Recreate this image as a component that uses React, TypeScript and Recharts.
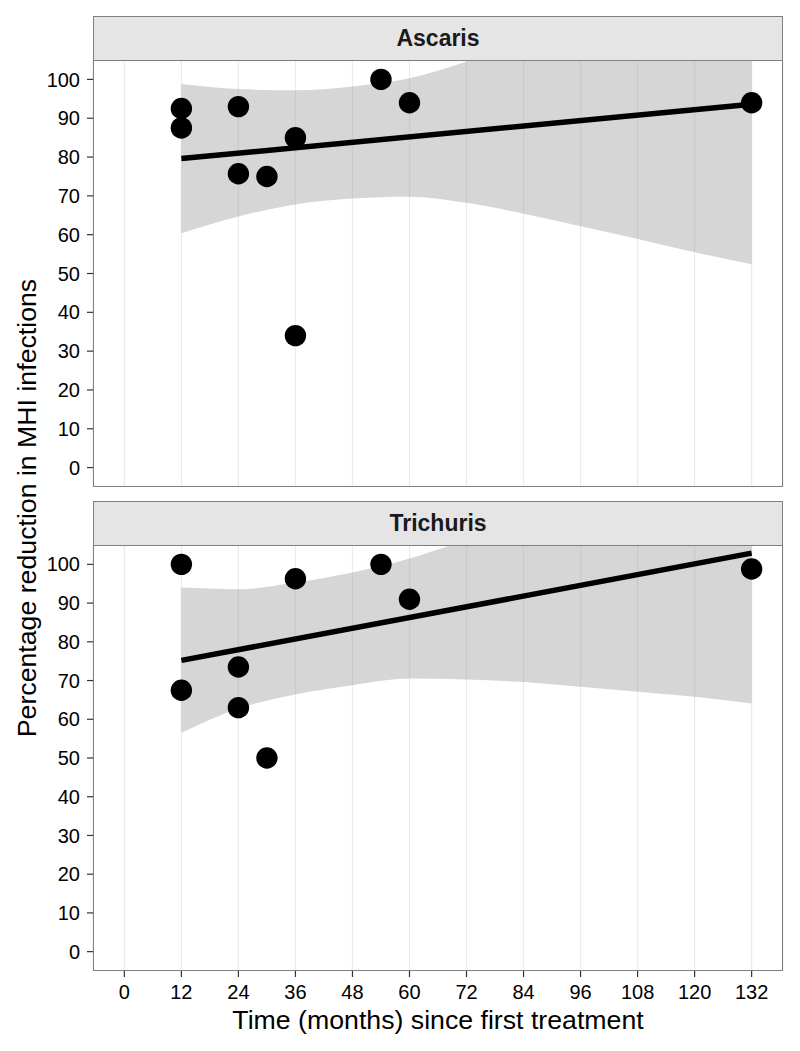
import React from 'react';
import { ComposedChart, Scatter, Line, Area, XAxis, YAxis, CartesianGrid } from 'recharts';

// ---- data ----
const xTicks = [0, 12, 24, 36, 48, 60, 72, 84, 96, 108, 120, 132];
const yTicks = [0, 10, 20, 30, 40, 50, 60, 70, 80, 90, 100];

const ascarisMonths = [12, 12, 24, 24, 30, 36, 36, 54, 60, 132];
const ascarisReduction = [92.5, 87.5, 93, 75.7, 75, 85, 34, 100, 94, 94];

const trichurisMonths = [12, 12, 24, 24, 30, 36, 54, 60, 132];
const trichurisReduction = [100, 67.5, 73.5, 63, 50, 96.3, 100, 91, 98.8];

const fitMonths = [12, 132];
const ascarisFit = [79.6, 93.6];
const trichurisFit = [75.2, 102.9];

const bandMonths = [12, 24, 36, 48, 60, 72, 84, 96, 108, 120, 132];
const ascarisLower = [60.4, 64.7, 67.8, 69.3, 69.8, 68.2, 65.4, 62.2, 58.9, 55.5, 52.4];
const ascarisUpper = [98.8, 97.5, 97.2, 98.2, 100.3, 104.6, 110, 116, 122, 128, 134];
const trichurisLower = [56.5, 62.8, 66.4, 68.8, 70.5, 70.3, 69.6, 68.4, 67.1, 65.8, 64.1];
const trichurisUpper = [94, 93.6, 95.3, 97.9, 101.5, 106.5, 112.5, 119, 126, 133, 140];

const xDomain: [number, number] = [-6.6, 138.6];
const yDomain: [number, number] = [-5, 105];

const FONT = '"Liberation Sans", Arial, Helvetica, sans-serif';

const dot = (props: any) => <circle cx={props.cx} cy={props.cy} r={10.7} fill="#000" />;
const emptyTick = () => <g />;

function Panel({
  months, values, fit, lower, upper, showX, width, height, margin,
}: any) {
  const points = months.map((m: number, i: number) => ({ x: m, y: values[i] }));
  const fitData = fitMonths.map((m, i) => ({ x: m, fit: fit[i] }));
  const bandData = bandMonths.map((m, i) => ({ x: m, band: [lower[i], upper[i]] }));
  return (
    <ComposedChart width={width} height={height} margin={margin}>
      <CartesianGrid horizontal={false} vertical stroke="#ebebeb" strokeWidth={1.2} />
      <XAxis
        type="number"
        dataKey="x"
        domain={xDomain}
        ticks={xTicks}
        allowDataOverflow
        interval={0}
        height={showX ? 80 : 0}
        axisLine={false}
        tick={showX ? { fill: '#000', fontSize: 20 } : emptyTick}
        tickLine={showX ? { stroke: '#333', strokeWidth: 1.2 } : false}
        tickSize={6}
        tickMargin={8}
      />
      <YAxis
        type="number"
        domain={yDomain}
        ticks={yTicks}
        allowDataOverflow
        interval={0}
        width={60}
        axisLine={false}
        tick={{ fill: '#000', fontSize: 20 }}
        tickLine={{ stroke: '#333', strokeWidth: 1.2 }}
        tickSize={6}
        tickMargin={7}
      />
      <Area
        data={bandData}
        dataKey="band"
        type="monotone"
        stroke="none"
        fill="#999999"
        fillOpacity={0.4}
        isAnimationActive={false}
        dot={false}
        activeDot={false}
      />
      <Line
        data={fitData}
        dataKey="fit"
        type="linear"
        stroke="#000"
        strokeWidth={5.5}
        dot={false}
        activeDot={false}
        isAnimationActive={false}
      />
      <Scatter data={points} dataKey="y" shape={dot} isAnimationActive={false} />
    </ComposedChart>
  );
}

const stripStyle = (top: number): React.CSSProperties => ({
  position: 'absolute',
  left: 93,
  top,
  width: 690,
  height: 45,
  boxSizing: 'border-box',
  background: '#e5e5e5',
  border: '1px solid #7f7f7f',
  display: 'flex',
  alignItems: 'center',
  justifyContent: 'center',
  fontWeight: 'bold',
  fontSize: 23,
  color: '#1a1a1a',
});

const borderStyle = (top: number, h: number): React.CSSProperties => ({
  position: 'absolute',
  left: 93,
  top,
  width: 690,
  height: h,
  boxSizing: 'border-box',
  border: '1.3px solid #7f7f7f',
  pointerEvents: 'none',
});

export default function App() {
  return (
    <div
      style={{
        position: 'absolute',
        left: 0,
        top: 0,
        width: 800,
        height: 1051,
        background: '#fff',
        fontFamily: FONT,
        overflow: 'hidden',
      }}
    >
      <div style={{ position: 'absolute', left: 0, top: 0 }}>
        <Panel
          months={ascarisMonths}
          values={ascarisReduction}
          fit={ascarisFit}
          lower={ascarisLower}
          upper={ascarisUpper}
          showX={false}
          width={800}
          height={500}
          margin={{ top: 60, right: 17, bottom: 13, left: 33 }}
        />
      </div>
      <div style={{ position: 'absolute', left: 0, top: 500 }}>
        <Panel
          months={trichurisMonths}
          values={trichurisReduction}
          fit={trichurisFit}
          lower={trichurisLower}
          upper={trichurisUpper}
          showX
          width={800}
          height={551}
          margin={{ top: 45, right: 17, bottom: 0, left: 33 }}
        />
      </div>
      <div style={stripStyle(16)}>Ascaris</div>
      <div style={stripStyle(501)}>Trichuris</div>
      <div style={borderStyle(60, 427)} />
      <div style={borderStyle(545, 426)} />
      <div
        style={{
          position: 'absolute',
          left: 27,
          top: 508,
          transform: 'translate(-50%, -50%) rotate(-90deg)',
          whiteSpace: 'nowrap',
          fontSize: 26.7,
          lineHeight: 1,
          color: '#000',
        }}
      >
        Percentage reduction in MHI infections
      </div>
      <div
        style={{
          position: 'absolute',
          left: 438,
          top: 1020,
          transform: 'translate(-50%, -50%)',
          whiteSpace: 'nowrap',
          fontSize: 26.7,
          lineHeight: 1,
          color: '#000',
        }}
      >
        Time (months) since first treatment
      </div>
    </div>
  );
}
